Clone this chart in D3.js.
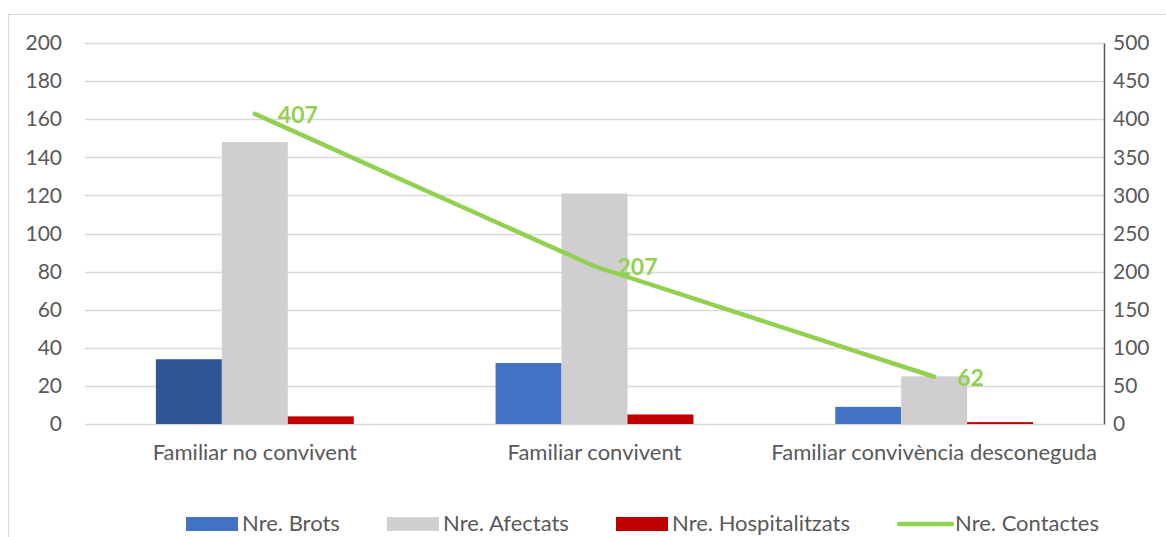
<!DOCTYPE html>
<html>
<head>
<meta charset="utf-8">
<script src="https://cdn.jsdelivr.net/npm/d3@7"></script>
<style>
  body { margin: 0; background: #fff; }
  svg text { font-family: "Lato", "Open Sans", sans-serif; fill: #595959; }
</style>
</head>
<body>
<div id="chart"></div>
<script>
var categories = ["Familiar no convivent", "Familiar convivent", "Familiar convivència desconeguda"];
var brots = [34, 32, 9];
var afectats = [148, 121, 25];
var hospitalitzats = [4, 5, 1];
var contactes = [407, 207, 62];
var leftTicks = [0, 20, 40, 60, 80, 100, 120, 140, 160, 180, 200];
var rightTicks = [0, 50, 100, 150, 200, 250, 300, 350, 400, 450, 500];

var W = 1166, H = 537,
    margin = {top: 43, right: 62, bottom: 113, left: 85},
    width = W - margin.left - margin.right,
    height = H - margin.top - margin.bottom;

var svg = d3.select("#chart").append("svg")
  .attr("width", W)
  .attr("height", H);

// chart frame
svg.append("rect")
  .attr("x", 8.5).attr("y", 14.5)
  .attr("width", W + 20).attr("height", H + 20)
  .attr("fill", "none")
  .attr("stroke", "#d9d9d9")
  .attr("stroke-width", 1);

var g = svg.append("g")
  .attr("transform", "translate(" + margin.left + "," + margin.top + ")");

var x = d3.scaleBand().domain(categories).range([0, width]);
var y = d3.scaleLinear().domain([0, 200]).range([height, 0]);
var y2 = d3.scaleLinear().domain([0, 500]).range([height, 0]);

var barW = x.bandwidth() / 5.15;
var series = [
  {name: "Nre. Brots", values: brots, color: "#4472c4"},
  {name: "Nre. Afectats", values: afectats, color: "#d0cece"},
  {name: "Nre. Hospitalitzats", values: hospitalitzats, color: "#c00000"}
];

// gridlines
g.selectAll("line.grid")
  .data(leftTicks)
  .enter().append("line")
    .attr("class", "grid")
    .attr("x1", 0).attr("x2", width)
    .attr("y1", function (d) { return Math.round(y(d)) + 0.5; })
    .attr("y2", function (d) { return Math.round(y(d)) + 0.5; })
    .attr("stroke", "#d9d9d9")
    .attr("stroke-width", 1.5);

// bars
series.forEach(function (s, si) {
  g.selectAll("rect.s" + si)
    .data(s.values)
    .enter().append("rect")
      .attr("class", "s" + si)
      .attr("x", function (d, i) { return x(categories[i]) + x.bandwidth() / 2 + (si - 1.5) * barW; })
      .attr("y", function (d) { return y(d); })
      .attr("width", barW)
      .attr("height", function (d) { return height - y(d); })
      .attr("fill", function (d, i) { return (si === 0 && i === 0) ? "#2f5597" : s.color; });
});

// left axis
var yAxis = g.append("g")
  .call(d3.axisLeft(y).tickValues(leftTicks).tickSize(0).tickPadding(23));
yAxis.select(".domain").remove();
yAxis.selectAll("text").style("font-size", "21px").attr("fill", "#595959");

// right axis
var yAxis2 = g.append("g")
  .attr("transform", "translate(" + width + ",0)")
  .call(d3.axisRight(y2).tickValues(rightTicks).tickSize(0).tickPadding(9));
yAxis2.select(".domain").attr("stroke", "#595959").attr("stroke-width", 1.5);
yAxis2.selectAll("text").style("font-size", "21px").attr("fill", "#595959");

// x axis labels
var xAxis = g.append("g")
  .attr("transform", "translate(0," + height + ")")
  .call(d3.axisBottom(x).tickSize(0).tickPadding(20));
xAxis.select(".domain").remove();
xAxis.selectAll("text").style("font-size", "22px").attr("fill", "#595959");

// contactes line
var line = d3.line()
  .x(function (d, i) { return x(categories[i]) + x.bandwidth() / 2; })
  .y(function (d) { return y2(d); });

g.append("path")
  .datum(contactes)
  .attr("d", line)
  .attr("fill", "none")
  .attr("stroke", "#92d050")
  .attr("stroke-width", 4.5)
  .attr("stroke-linecap", "round");

g.selectAll("text.lbl")
  .data(contactes)
  .enter().append("text")
    .attr("class", "lbl")
    .attr("x", function (d, i) { return x(categories[i]) + x.bandwidth() / 2 + 23; })
    .attr("y", function (d) { return y2(d) + 9; })
    .style("fill", "#92d050")
    .style("font-weight", "bold")
    .style("font-size", "23px")
    .text(function (d) { return d; });

// legend
var legendItems = [
  {name: "Nre. Brots", color: "#4472c4", type: "rect", x: 186},
  {name: "Nre. Afectats", color: "#d0cece", type: "rect", x: 387},
  {name: "Nre. Hospitalitzats", color: "#c00000", type: "rect", x: 616},
  {name: "Nre. Contactes", color: "#92d050", type: "line", x: 897}
];
var legend = svg.append("g");
legendItems.forEach(function (d) {
  if (d.type === "rect") {
    legend.append("rect")
      .attr("x", d.x).attr("y", 517)
      .attr("width", 52).attr("height", 14)
      .attr("fill", d.color);
  } else {
    legend.append("line")
      .attr("x1", d.x + 2).attr("x2", d.x + 55)
      .attr("y1", 524).attr("y2", 524)
      .attr("stroke", d.color)
      .attr("stroke-width", 4.5)
      .attr("stroke-linecap", "round");
  }
  legend.append("text")
    .attr("x", d.type === "rect" ? d.x + 56 : d.x + 58)
    .attr("y", 531)
    .style("font-size", "22px")
    .text(d.name);
});
</script>
</body>
</html>
